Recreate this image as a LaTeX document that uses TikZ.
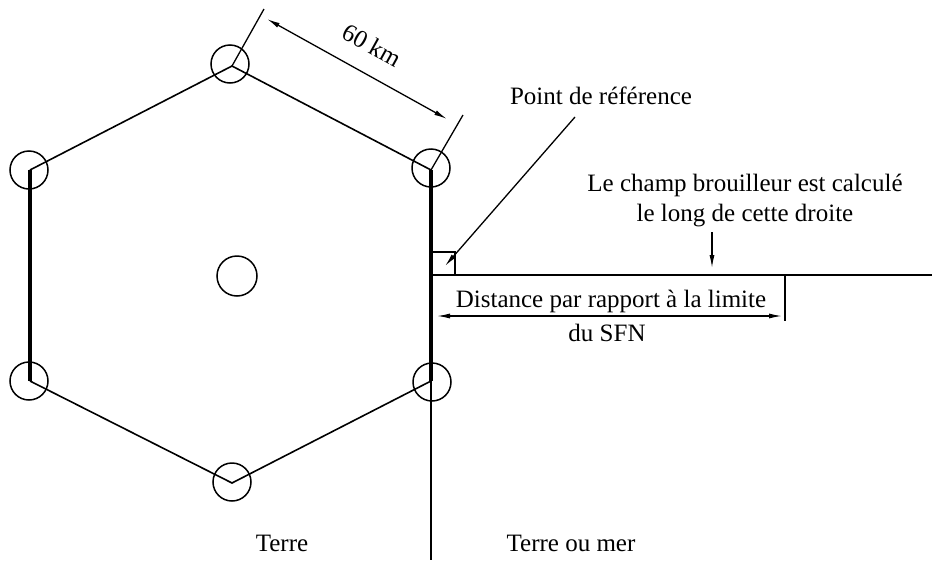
\documentclass[tikz,border=0pt]{standalone}
\usepackage{fontspec}
\setmainfont{Liberation Serif}
\usetikzlibrary{arrows.meta}
\begin{document}
\begin{tikzpicture}[x=1pt,y=-1pt,
  thinline/.style={line width=1.6pt},
  thickline/.style={line width=3.6pt},
  station/.style={circle,draw,line width=1.5pt,minimum size=38pt,inner sep=0pt},
  dimline/.style={line width=1.3pt},
  tip/.tip={Latex[length=13pt,width=5pt]},
  arr/.style={-tip},
  darr/.style={tip-tip},
  lbl/.style={font=\fontsize{25}{30}\selectfont,inner sep=0pt}]
\useasboundingbox (0,0) rectangle (932,560);
% vertices
\coordinate (T) at (232,66);
\coordinate (TR) at (431,170);
\coordinate (BR) at (431,381);
\coordinate (B) at (232,483);
\coordinate (BL) at (30,381);
\coordinate (TL) at (30,170);
\coordinate (Bot) at (431,560);
% hexagon
\draw[thinline] (TL) -- (T) -- (TR);
\draw[thinline] (BL) -- (B) -- (BR);
\draw[thickline] (TL) -- (BL);
\draw[thickline] (TR) -- (BR);
\draw[line width=1.8pt] (BR) -- (Bot);
% stations
\node[station] (sT) at (230,64) {};
\node[station] (sTR) at (431,168) {};
\node[station] (sTL) at (29,170) {};
\node[station] (sBL) at (29,381) {};
\node[station] (sBR) at (432,382) {};
\node[station] (sB) at (232,482) {};
\node[station,minimum width=40pt,minimum height=39pt] (sC) at (237,276) {};
% 60 km dimension
\coordinate (eT) at (264,9);
\coordinate (eTR) at (463,115);
\coordinate (a1) at (267,19);
\coordinate (a2) at (447,119);
\draw[dimline] (T) -- (eT);
\draw[dimline] (TR) -- (eTR);
\draw[dimline,darr] (a1) -- (a2);
\node[lbl,rotate=-29] (km) at (372,45) {60 km};
% reference line
\coordinate (L0) at (431,275);
\coordinate (L1) at (932,275);
\draw[dimline] (L0) -- (L1);
\coordinate (ra1) at (431,252);
\coordinate (ra2) at (455,252);
\coordinate (ra3) at (455,275);
\draw[dimline] (ra1) -- (ra2) -- (ra3);
% point de reference
\node[lbl] (pref) at (601,96) {Point de référence};
\coordinate (pl0) at (575,117);
\coordinate (pl1) at (445,266);
\draw[dimline,arr] (pl0) -- (pl1);
% champ brouilleur
\node[lbl,align=center] (champ) at (745,201) {Le champ brouilleur est calculé\\le long de cette droite};
\coordinate (c0) at (712,232);
\coordinate (c1) at (712,268);
\draw[dimline,arr] (c0) -- (c1);
% distance
\coordinate (tk0) at (785,276);
\coordinate (tk1) at (785,321);
\draw[dimline] (tk0) -- (tk1);
\coordinate (d0) at (437,316);
\coordinate (d1) at (782,316);
\draw[dimline,darr] (d0) -- (d1);
\node[lbl] (dist) at (611,301) {Distance par rapport à la limite};
\node[lbl] (sfn) at (607,333) {du SFN};
% regions
\node[lbl] (terre) at (282,543) {Terre};
\node[lbl] (mer) at (571,543) {Terre ou mer};
\end{tikzpicture}
\end{document}
